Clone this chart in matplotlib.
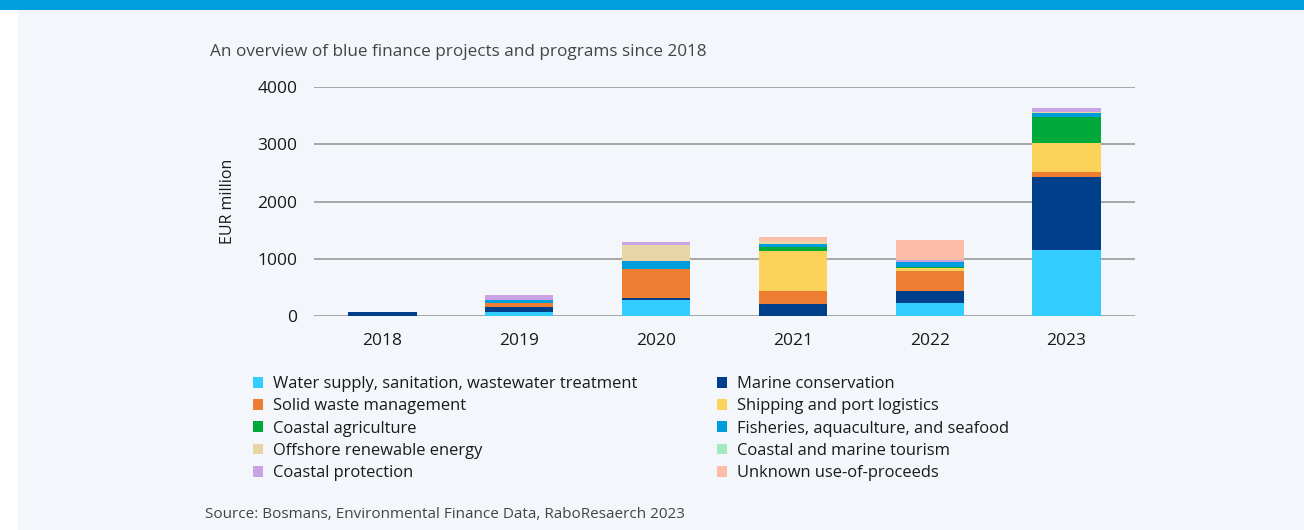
import matplotlib.pyplot as plt
from matplotlib.patches import Rectangle, Patch

plt.rcParams['font.family'] = ['Open Sans', 'DejaVu Sans']

# Data (EUR million), stacked bottom -> top
years = ["2018", "2019", "2020", "2021", "2022", "2023"]
water = [0, 70, 285, 0, 227, 1148]
marine = [75, 85, 35, 210, 210, 1275]
solid_waste = [0, 70, 500, 227, 355, 87]
shipping = [0, 0, 0, 700, 42, 506]
coastal_agri = [0, 0, 0, 70, 17, 460]
fisheries = [0, 60, 140, 52, 93, 64]
tourism = [0, 0, 0, 0, 0, 0]
offshore = [0, 0, 280, 52, 0, 30]
protection = [0, 80, 52, 0, 35, 58]
unknown = [0, 0, 0, 70, 350, 0]

labels = ["Water supply, sanitation, wastewater treatment", "Marine conservation",
          "Solid waste management", "Shipping and port logistics",
          "Coastal agriculture", "Fisheries, aquaculture, and seafood",
          "Coastal and marine tourism", "Offshore renewable energy",
          "Coastal protection", "Unknown use-of-proceeds"]
series = [water, marine, solid_waste, shipping, coastal_agri, fisheries,
          tourism, offshore, protection, unknown]
colors = ["#33CCFF", "#003F8A", "#ED7D31", "#FCD35A", "#00A93A", "#009DDC",
          "#A2EBBE", "#E8D5A6", "#C9A3E3", "#FCBDA8"]

bg = "#F3F6FB"
fig = plt.figure(figsize=(13.04, 5.30), dpi=100, facecolor=bg)

# top banner and left white strip
fig.patches.append(Rectangle((0, 1 - 10 / 530), 1, 10 / 530, transform=fig.transFigure,
                             facecolor="#009FDF", edgecolor="none", zorder=0))
fig.patches.append(Rectangle((0, 0), 18 / 1304, 1 - 10 / 530, transform=fig.transFigure,
                             facecolor="white", edgecolor="none", zorder=0))

ax = fig.add_axes([314 / 1304, 1 - 316 / 530, 821 / 1304, 229 / 530])
ax.set_facecolor(bg)

x = range(len(years))
bottom = [0] * len(years)
for vals, lab, col in zip(series, labels, colors):
    ax.bar(x, vals, width=0.5, bottom=bottom, color=col, label=lab, zorder=2)
    bottom = [b + v for b, v in zip(bottom, vals)]

ax.set_xlim(-0.5, 5.5)
ax.set_ylim(0, 4000)
ax.set_yticks([0, 1000, 2000, 3000, 4000])
ax.set_xticks(list(x))
ax.set_xticklabels(years)
ax.yaxis.grid(True, color="#9A9A9A", linewidth=1.2, zorder=0)
ax.set_axisbelow(True)
for s in ax.spines.values():
    s.set_visible(False)
ax.tick_params(axis="both", length=0, labelsize=12.5, colors="#1A1A1A")
ax.tick_params(axis="y", pad=12)
ax.tick_params(axis="x", pad=12)
ax.set_ylabel("EUR million", fontsize=11.5, color="#1A1A1A", labelpad=15)

fig.text(210 / 1304, 1 - 52 / 530, "An overview of blue finance projects and programs since 2018",
         fontsize=12.3, color="#444444", va="center", ha="left")
fig.text(205 / 1304, 1 - 515 / 530, "Source: Bosmans, Environmental Finance Data, RaboResaerch 2023",
         fontsize=11, color="#444444", va="center", ha="left")

handles = [Patch(facecolor=c, edgecolor="none") for c in colors]
col1 = [0, 2, 4, 7, 8]
col2 = [1, 3, 5, 6, 9]
for idx, xpos in ((col1, 253), (col2, 717)):
    leg = fig.legend([handles[i] for i in idx], [labels[i] for i in idx],
                     loc="upper left", bbox_to_anchor=(xpos / 1304, 1 - 376 / 530),
                     frameon=False, fontsize=11.9, handlelength=0.62, handleheight=0.62,
                     handletextpad=0.6, labelspacing=0.38, borderaxespad=0, borderpad=0)
    for t in leg.get_texts():
        t.set_color("#1A1A1A")

fig.savefig("out.png", dpi=100, facecolor=bg)
